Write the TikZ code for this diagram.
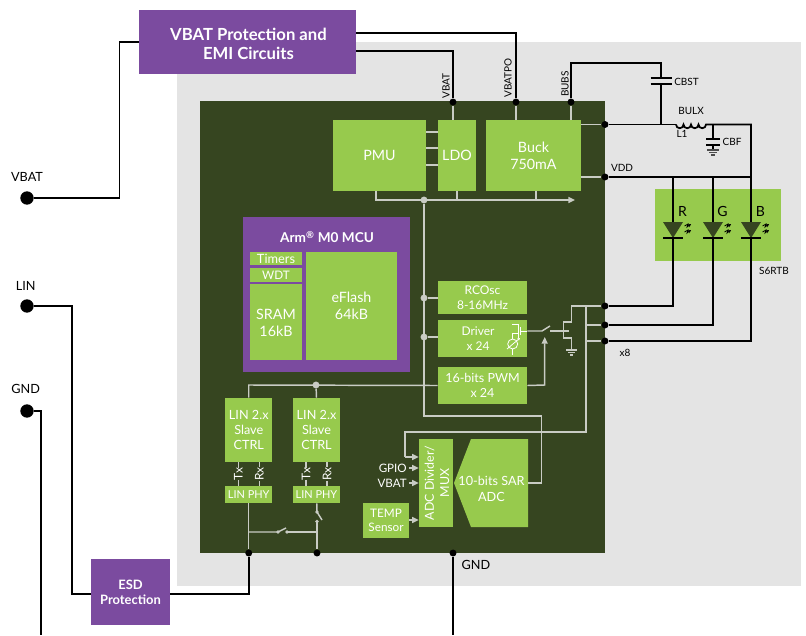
\documentclass[tikz,border=0pt]{standalone}
\usepackage{fontspec}
\setmainfont{Lato}
\usetikzlibrary{arrows.meta,calc}
\definecolor{chipgreen}{HTML}{364520}
\definecolor{leaf}{HTML}{97CA4D}
\definecolor{plum}{HTML}{7B4B9F}
\definecolor{backgray}{HTML}{E4E4E4}
\definecolor{wiregray}{HTML}{C9CCC4}
\tikzset{
  block/.style={fill=leaf,text=white,align=center,inner sep=0pt,font=\fontsize{10.7}{13}\selectfont},
  pblock/.style={block,fill=plum,font=\fontsize{10.5}{13}\selectfont\bfseries},
  wire/.style={black,line width=1.3pt},
  gwire/.style={wiregray,line width=1.1pt},
  garrow/.style={gwire,-{Triangle[length=5pt,width=4.5pt]}},
  dot/.style={circle,fill=black,inner sep=0pt,minimum size=5.2pt},
  gdot/.style={circle,fill=wiregray,inner sep=0pt,minimum size=5.2pt},
  tag/.style={inner sep=0pt,font=\fontsize{7.5}{9}\selectfont},
  wtag/.style={tag,text=white},
  bigtag/.style={inner sep=0pt,font=\fontsize{9.5}{11}\selectfont}
}
\begin{document}
\begin{tikzpicture}[x=.75pt,y=-.75pt]
\useasboundingbox (0,0) rectangle (806,635);
\fill[white] (0,0) rectangle (806,635);
\fill[backgray] (177,42) rectangle (801,586);
\node[fill=chipgreen,inner sep=0pt,minimum width=303.75pt,minimum height=339pt] (chip) at (402.5,327) {};
% blocks
\node[pblock,minimum width=162.75pt,minimum height=48pt] (prot) at (247.5,42) {};
\node[wtag,align=center,font=\fontsize{12.5}{14.25}\selectfont\bfseries] (prottxt) at (248.5,43.5) {VBAT Protection and\\EMI Circuits};
\node[pblock,minimum width=59.25pt,minimum height=49.5pt,font=\fontsize{9.7}{11.25}\selectfont\bfseries] (esd) at (130.5,592) {ESD\\Protection};
\node[block,minimum width=69.75pt,minimum height=53.25pt] (pmu) at (379.5,155.5) {PMU};
\node[block,minimum width=28.5pt,minimum height=53.25pt] (ldo) at (457,155.5) {LDO};
\node[block,minimum width=71.25pt,minimum height=53.25pt] (buck) at (533.5,155.5) {Buck\\750mA};
\node[block,minimum width=66.75pt,minimum height=24.75pt,font=\fontsize{9}{11.5}\selectfont] (rcosc) at (482.5,297.5) {RCOsc\\8-16MHz};
\node[block,minimum width=66.75pt,minimum height=27.75pt] (driver) at (482.5,338.5) {};
\node[wtag,font=\fontsize{9}{11.5}\selectfont,align=center] (drivertxt) at (478,338.5) {Driver\\x 24};
\node[block,minimum width=66.75pt,minimum height=27.75pt,font=\fontsize{9.4}{11.5}\selectfont] (pwm) at (482.5,385.5) {16-bits PWM\\x 24};
% mcu
\node[pblock,minimum width=125.25pt,minimum height=116.25pt] (mcu) at (326.5,294.5) {};
\node[wtag,font=\fontsize{10.2}{12}\selectfont\bfseries] (mcutxt) at (327,237) {Arm\textsuperscript{®} M0 MCU};
\node[block,minimum width=39pt,minimum height=9.75pt,font=\fontsize{9.6}{10}\selectfont] (timers) at (276,258.5) {Timers};
\node[block,minimum width=39pt,minimum height=10.1pt,font=\fontsize{8.8}{10}\selectfont] (wdt) at (276,274.8) {WDT};
\node[block,minimum width=39pt,minimum height=57pt] (sram) at (276,322) {};
\node[wtag,align=center,font=\fontsize{10.7}{13}\selectfont] (sramtxt) at (276,323) {SRAM\\16kB};
\node[block,minimum width=68.25pt,minimum height=81pt] (eflash) at (351.5,306) {eFlash\\64kB};
% lin
\foreach \n/\x in {a/248.75,b/316.5}{
  \node[block,minimum width=35.6pt,minimum height=48pt,font=\fontsize{9.5}{11.5}\selectfont] (lin\n) at (\x,430) {LIN 2.x\\Slave\\CTRL};
  \node[block,minimum width=35.6pt,minimum height=12.75pt,font=\fontsize{8.2}{10}\selectfont] (phy\n) at (\x,494.5) {LIN PHY};
  \node[wtag,rotate=90,font=\fontsize{9}{10}\selectfont] (tx\n) at (\x-10.5,474) {Tx};
  \node[wtag,rotate=90,font=\fontsize{9}{10}\selectfont] (rx\n) at (\x+10.5,474) {Rx};
  \draw[gwire] (lin\n.south -| tx\n) -- (tx\n.east); \draw[gwire] (tx\n.west) -- (phy\n.north -| tx\n);
  \draw[gwire] (lin\n.south -| rx\n) -- (rx\n.east); \draw[gwire] (rx\n.west) -- (phy\n.north -| rx\n);
}
\node[block,minimum width=34.5pt,minimum height=26.25pt,font=\fontsize{8.8}{10.5}\selectfont] (temp) at (386,520.5) {TEMP\\Sensor};
\node[block,minimum width=25.5pt,minimum height=66pt] (mux) at (436,483) {};
\node[wtag,rotate=90,align=center,font=\fontsize{9.3}{11.5}\selectfont] (muxtxt) at (437,483) {ADC Divider/\\MUX};
\fill[leaf] (471,439) -- (528,439) -- (528,527) -- (471,527) -- (454,483) -- cycle;
\node[wtag,align=center,font=\fontsize{9.5}{11.5}\selectfont] (sartxt) at (491.5,489) {10-bits SAR\\ADC};
\node[fill=leaf,inner sep=0pt,minimum width=94.5pt,minimum height=54pt] (led) at (718,225) {};
% dots
\node[dot] (dvbat) at (453,102) {};
\node[dot] (dpo) at (516,102) {};
\node[dot] (dbubs) at (571,102) {};
\node[dot] (dlx) at (605,124.5) {};
\node[dot] (dvdd) at (605,177) {};
\node[dot] (dr) at (605,306) {};
\node[dot] (dg) at (605,325) {};
\node[dot] (db) at (605,341) {};
\node[dot] (dphya) at (248.75,553) {};
\node[dot] (dphyb) at (317,553) {};
\node[dot] (dgnd) at (453,553) {};
\node[dot,minimum size=10pt] (pvbat) at (27,198) {};
\node[dot,minimum size=10pt] (plin) at (27,306) {};
\node[dot,minimum size=10pt] (pgnd) at (27,411) {};
\node[gdot] (grail) at (424,200) {};
\node[gdot] (grc) at (424,298) {};
\node[gdot] (gdr) at (424,337) {};
\node[gdot] (glin) at (316,385) {};
% outer wires
\draw[wire] (pvbat) -- (119.5,198) -- (119.5,42) -- (prot.west |- 0,42);
\draw[wire] (prot.east |- 0,51) -- (dvbat |- 0,51) -- (dvbat);
\draw[wire] (prot.east |- 0,33) -- (dpo |- 0,33) -- (dpo);
\draw[wire] (dbubs) -- (571,63) -- (661,63) -- (661,78);
\draw[wire] (661,84) -- (661,124.5);
\draw[wire] (650.5,78) -- (671.5,78) (650.5,84) -- (671.5,84);
\draw[wire] (dlx) -- (676,124.5);
\draw[wire] (676,124.5) arc (180:0:3.75) arc (180:0:3.75) arc (180:0:3.75) arc (180:0:3.75) -- (751,124.5) -- (751,177);
\draw[wire] (713,124.5) -- (713,139);
\draw[wire] (706,139) -- (720,139) (706,145) -- (720,145);
\draw[wire] (713,145) -- (713,150);
\draw[black!70,line width=.8pt] (707,150) -- (719,150) (709,152.5) -- (717,152.5) (711,155) -- (715,155);
\draw[wire] (dvdd) -- (751,177);
\foreach \x/\d/\c in {673/dr/R,713/dg/G,751/db/B}{
  \draw[wire] (\x,177) -- (\x,222);
  \fill[chipgreen] (\x-10,222) -- (\x+10,222) -- (\x,238) -- cycle;
  \draw[black,line width=1.5pt] (\x-10,238) -- (\x+10,238);
  \draw[wire] (\x,238) -- (\x,0 |- \d) -- (\d);
  \node[inner sep=0pt,font=\fontsize{10.5}{11}\selectfont] (l\c) at (\x+9.5,211) {\c};
  \foreach \s in {0,6}{\draw[black,line width=.6pt,-{Stealth[length=2.5pt,width=2.5pt]}] (\x+11.5,226+\s) -- (\x+15,224+\s) -- (\x+14,227+\s) -- (\x+18,224+\s);}
}
\draw[wire] (dphya) -- (248.75,594) -- (esd.east |- 0,594);
\draw[wire] (plin) -- (72,306) -- (72,594) -- (esd.west |- 0,594);
\draw[wire] (pgnd) -- (40.7,411) -- (40.7,635);
\draw[wire] (dgnd) -- (453,635);
% inner wires
\draw[gwire] (dvbat) -- (dvbat |- ldo.north);
\draw[gwire] (dpo) -- (dpo |- buck.north);
\draw[gwire] (dbubs) -- (dbubs |- buck.north);
\draw[gwire] (buck.east |- dlx) -- (dlx);
\draw[gwire] (buck.east |- dvdd) -- (dvdd);
\foreach \y in {132,148,165}{\draw[gwire] (pmu.east |- 0,\y) -- (ldo.west |- 0,\y);}
\draw[garrow] (376,191) -- (376,200) -- (575,200);
\draw[gwire] (457,191) -- (457,200) (536,191) -- (536,200);
\draw[gwire] (grail) -- (424,416) -- (541.7,416) -- (541.7,483) -- (528,483);
\draw[gwire] (grc) -- (rcosc.west |- grc);
\draw[gwire] (gdr) -- (driver.west |- gdr);
\draw[gwire] (dr) -- (571.5,306) -- (571.5,322) -- (563.5,322) -- (563.5,338) -- (571.5,338) -- (571.5,350);
\draw[gwire] (586,306) -- (586,432) -- (405,432) -- (405,457);
\draw[garrow] (405,457) -- (mux.west |- 0,457);
\draw[gwire] (586,325) -- (dg) (586,341) -- (db);
\draw[gwire] (pwm.west) -- (248.75,385) -- (lina.north);
\draw[gwire] (glin) -- (linb.north);
\draw[garrow] (pwm.east) -- (544.7,385) -- (544.7,337);
\draw[gwire] (driver.east |- 0,331) -- (542,331) -- (550,326);
\draw[gwire] (550,331) -- (569,331);
\draw[gwire,line width=.9pt] (566,350) -- (577,350) (568,352.5) -- (575,352.5) (570,355) -- (573,355);
% driver icon
\draw[white,line width=.6pt] (520.7,331) -- (527,331) (520.7,327) -- (520.7,335) (518.5,324) -- (518.5,338) (518.5,324) -- (512,324) (518.5,333) -- (512.7,333) -- (512.7,339) (512.7,349) -- (512.7,355);
\draw[white,line width=.6pt] (512.7,344) circle (5);
\draw[white,line width=.6pt,-{Stealth[length=2pt,width=2pt]}] (507,349) -- (520,338);
% switches
\draw[gwire] (phya) -- (dphya);
\draw[gwire] (phyb) -- (317,512) -- (322,520);
\draw[gwire] (317,521.5) -- (dphyb);
\fill[wiregray] (317,512) circle (1.8) (317,521.5) circle (1.8) (278,532) circle (1.8) (287,532) circle (1.8);
\draw[gwire] (248.75,532) -- (278,532) -- (286,528);
\draw[gwire] (287,532) -- (317,532);
% adc inputs
\draw[garrow] (409,468) -- (mux.west |- 0,468);
\draw[garrow] (409,483) -- (mux.west |- 0,483);
\draw[garrow] (temp.east |- 0,520) -- (mux.west |- 0,520);
\node[wtag,font=\fontsize{8.7}{10}\selectfont,anchor=east] (gpio) at (407,468) {GPIO};
\node[wtag,font=\fontsize{8.7}{10}\selectfont,anchor=east] (vbatin) at (407,483) {VBAT};
% labels
\node[tag,rotate=90] (lvbat) at (446,86) {VBAT};
\node[tag,rotate=90] (lpo) at (508,78) {VBATPO};
\node[tag,rotate=90] (lbubs) at (565,84) {BUBS};
\node[tag,anchor=west] (lcbst) at (674,81.5) {CBST};
\node[tag] (lbulx) at (691,111) {BULX};
\node[tag] (ll1) at (682,134) {L1};
\node[tag] (lcbf) at (732,142) {CBF};
\node[tag] (lvdd) at (622,168) {VDD};
\node[tag] (lrtb) at (774,271) {S6RTB};
\node[tag] (lx8) at (625,353) {x8};
\node[bigtag] (lgnd) at (476,565) {GND};
\node[bigtag] (tvbat) at (27,177) {VBAT};
\node[bigtag] (tlin) at (25.7,286) {LIN};
\node[bigtag] (tgnd) at (25.7,389) {GND};
\end{tikzpicture}
\end{document}
